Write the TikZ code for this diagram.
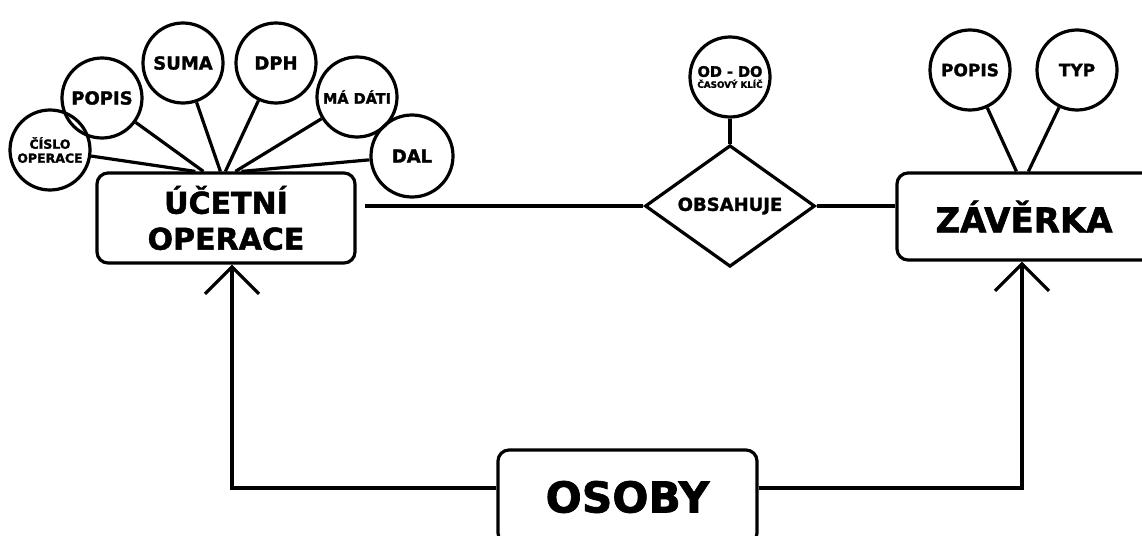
\documentclass[tikz,border=0pt]{standalone}
\usepackage{fontspec}
\setmainfont{DejaVu Sans}[BoldFeatures={FakeBold=1.6}]
\usetikzlibrary{shapes.geometric,arrows.meta,calc}
\newcommand{\fs}[2]{\bfseries\fontsize{#1}{#2}\selectfont}
\begin{document}
\begin{tikzpicture}[x=1pt,y=-1pt,line width=3.2pt,
  entity/.style={draw,rounded corners=11pt,inner sep=0pt,align=center},
  attr/.style={draw,circle,minimum size=80pt,inner sep=0pt,align=center,font=\fs{18}{20}},
  rel/.style={draw,diamond,minimum width=170pt,minimum height=73pt,inner sep=0pt,font=\fs{18}{20}},
  link/.style={line width=3.2pt},
  isa/.style={line width=3.2pt,-{Straight Barb[length=27pt,width=54pt]}}]
\useasboundingbox (0,0) rectangle (1142,535);
\clip (0,0) rectangle (1142,535);
\fill[white] (0,0) rectangle (1142,535);

% entities
\node[entity,minimum width=258pt,minimum height=90pt,font=\fs{30}{36}] (uo) at (226,218) {ÚČETNÍ\\OPERACE};
\node[entity,minimum width=273pt,minimum height=87pt,
  label={[font=\fs{34}{36},xshift=-9.5pt]center:ZÁVĚRKA}] (zv) at (1033.5,216.5) {};
\node[entity,minimum width=259pt,minimum height=94pt,font=\fs{42.5}{44}] (os) at (627.5,497) {OSOBY};

% relationship
\node[rel] (ob) at (730,206) {OBSAHUJE};

% attributes of ÚČETNÍ OPERACE
\node[attr,font=\fs{12.5}{14}] (a1) at (50,150) {ČÍSLO\\OPERACE};
\node[attr] (a2) at (102,98) {POPIS};
\node[attr] (a3) at (183,63) {SUMA};
\node[attr] (a4) at (276,63) {DPH};
\node[attr,font=\fs{14.5}{15}] (a5) at (357,97) {MÁ DÁTI};
\node[attr,minimum size=82pt] (a6) at (412,156) {DAL};

% attribute of OBSAHUJE
\node[attr,font=\fs{14.5}{11}] (od) at (730,77) {OD - DO\\{\fs{8.8}{9}ČASOVÝ KLÍČ}};

% attributes of ZÁVĚRKA
\node[attr,font=\fs{17}{19}] (z1) at (970,70) {POPIS};
\node[attr,font=\fs{17}{19}] (z2) at (1077,70) {TYP};

% attribute links
\draw[link] (a1) -- ($(uo.north west)+(100,0)$);
\draw[link] (a2) -- ($(uo.north west)+(108,0)$);
\draw[link] (a3) -- ($(uo.north west)+(125,0)$);
\draw[link] (a4) -- ($(uo.north west)+(130,0)$);
\draw[link] (a5) -- ($(uo.north west)+(140,0)$);
\draw[link] (a6) -- ($(uo.north west)+(146,0)$);
\draw[link] (z1) -- ($(zv.north west)+(121,0)$);
\draw[link] (z2) -- ($(zv.north west)+(133,0)$);
\draw[link] (od) -- (ob.north);

% relationship links
\draw[link] ($(uo.east |- ob.west)+(8,0)$) -- (ob.west);
\draw[link] (ob.east) -- (zv.west |- ob.east);

% generalisation arrows
\draw[isa] ([yshift=9pt]os.west) -| ([xshift=6pt]uo.south);
\draw[isa] ([yshift=9pt]os.east) -| ([xshift=-11.5pt]zv.south);
\end{tikzpicture}
\end{document}
